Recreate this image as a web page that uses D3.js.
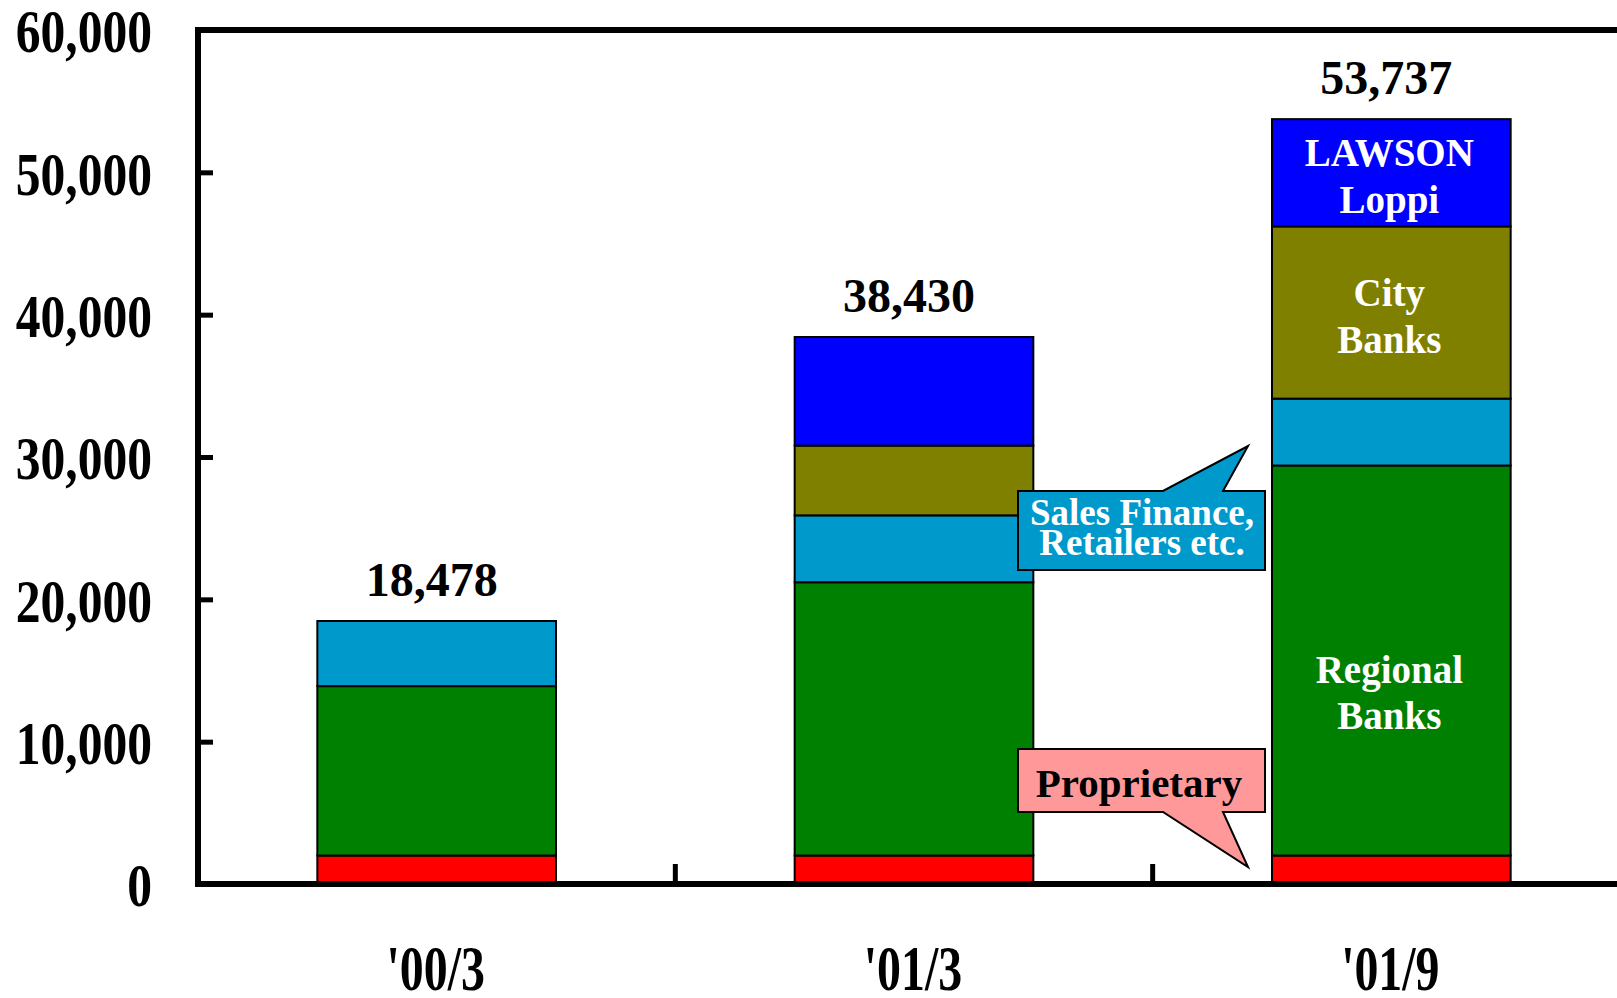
<!DOCTYPE html>
<html><head><meta charset="utf-8">
<script src="https://cdn.jsdelivr.net/npm/d3@7"></script>
<style>
body{margin:0;background:#fff}
svg{display:block}
text{font-family:"Liberation Serif","Times New Roman",serif;font-weight:bold}
</style>
</head><body><svg id="c" width="1617" height="998"></svg>
<script>
// ---- data ----
const categories = ["'00/3", "'01/3", "'01/9"];
const seriesKeys = ["Proprietary", "Regional Banks", "Sales Finance, Retailers etc.", "City Banks", "LAWSON Loppi"];
const proprietary   = [2000, 2000, 2000];
const regionalBanks = [11900, 19200, 27400];
const salesFinance  = [4578, 4700, 4700];
const cityBanks     = [0, 4900, 12100];
const lawsonLoppi   = [0, 7630, 7537];
const totals        = [18478, 38430, 53737];
const yTicks        = [0, 10000, 20000, 30000, 40000, 50000, 60000];
const seriesColors  = ["#FF0000", "#008000", "#0099CC", "#808000", "#0000FF"];

// in-bar labels: [series index, category index, lines]
const inBarLabels = [
  {s: 4, c: 2, lines: ["LAWSON", "Loppi"], dy: [-7, 40]},
  {s: 3, c: 2, lines: ["City", "Banks"], dy: [-7, 40]},
  {s: 1, c: 2, lines: ["Regional", "Banks"], dy: [22, 68]}
];

// ---- build ----
const table = categories.map((c, i) => ({
  cat: c,
  [seriesKeys[0]]: proprietary[i],
  [seriesKeys[1]]: regionalBanks[i],
  [seriesKeys[2]]: salesFinance[i],
  [seriesKeys[3]]: cityBanks[i],
  [seriesKeys[4]]: lawsonLoppi[i]
}));
const stacked = d3.stack().keys(seriesKeys)(table);

const svg = d3.select("#c");
const y = d3.scaleLinear().domain([0, 60000]).range([884, 30]);
const x = d3.scaleBand().domain(categories).range([198, 1630]).paddingInner(0.5).paddingOuter(0.25);

// bars
stacked.forEach((layer, si) => {
  svg.append("g").selectAll("rect")
    .data(layer.filter(d => d[1] - d[0] > 0))
    .join("rect")
    .attr("x", d => x(d.data.cat))
    .attr("width", x.bandwidth())
    .attr("y", d => y(d[1]))
    .attr("height", d => y(d[0]) - y(d[1]))
    .attr("fill", seriesColors[si])
    .attr("stroke", "#000")
    .attr("stroke-width", 2);
});

// in-bar labels
inBarLabels.forEach(l => {
  const seg = stacked[l.s][l.c];
  const mid = (y(seg[0]) + y(seg[1])) / 2;
  const cx = x(categories[l.c]) + x.bandwidth() / 2 - 2;
  l.lines.forEach((t, k) => {
    svg.append("text").attr("x", cx).attr("y", mid + l.dy[k])
      .attr("text-anchor", "middle").attr("fill", "#fff")
      .attr("font-size", 39).text(t);
  });
});

// totals
svg.append("g").selectAll("text").data(totals).join("text")
  .attr("x", (d, i) => x(categories[i]) + x.bandwidth() / 2 - 5)
  .attr("y", d => y(d) - 25)
  .attr("text-anchor", "middle")
  .attr("font-size", 48)
  .text(d => d3.format(",")(d));

// y axis
const sx = 0.8;
const yAxis = svg.append("g").attr("transform", "translate(198,0)")
  .call(d3.axisLeft(y).tickValues(yTicks).tickSizeInner(-15).tickSizeOuter(0)
        .tickPadding(46).tickFormat(d3.format(",")));
yAxis.select(".domain").remove();
yAxis.attr("font-family", null).attr("font-size", null);
yAxis.selectAll(".tick line").attr("stroke", "#000").attr("stroke-width", 5);
yAxis.selectAll(".tick text")
  .attr("fill", "#000")
  .attr("font-size", 62)
  .attr("x", -46 / sx)
  .attr("dy", "0.35em")
  .attr("transform", `scale(${sx},1)`);

// x labels
const sxl = 0.76;
svg.append("g").selectAll("text").data(categories).join("text")
  .attr("transform", d => `translate(${x(d) + x.bandwidth() / 2 - 1},990) scale(${sxl},1)`)
  .attr("text-anchor", "middle")
  .attr("font-size", 63)
  .text(d => d);

// x boundary ticks
const gap = (x.step() - x.bandwidth()) / 2;
svg.append("g").selectAll("line").data(categories.slice(1)).join("line")
  .attr("x1", d => x(d) - gap).attr("x2", d => x(d) - gap)
  .attr("y1", y(0)).attr("y2", y(0) - 20)
  .attr("stroke", "#000").attr("stroke-width", 5);

// frame
svg.append("path")
  .attr("d", `M1625,${y(60000)} H198 V${y(0)} H1625`)
  .attr("fill", "none").attr("stroke", "#000").attr("stroke-width", 6)
  .attr("stroke-linejoin", "miter");

// callouts
svg.append("path")
  .attr("d", "M1018,491 H1163 L1248,446 L1223,491 H1265 V570 H1018 Z")
  .attr("fill", "#0099CC").attr("stroke", "#000").attr("stroke-width", 2);
svg.append("text").attr("x", 1142).attr("y", 525).attr("text-anchor", "middle")
  .attr("fill", "#fff").attr("font-size", 37).text("Sales Finance,");
svg.append("text").attr("x", 1142).attr("y", 555).attr("text-anchor", "middle")
  .attr("fill", "#fff").attr("font-size", 37).text("Retailers etc.");

svg.append("path")
  .attr("d", "M1018,749 H1265 V812 H1223 L1248,867 L1163,812 H1018 Z")
  .attr("fill", "#FF9999").attr("stroke", "#000").attr("stroke-width", 2);
svg.append("text").attr("x", 1139).attr("y", 797).attr("text-anchor", "middle")
  .attr("fill", "#000").attr("font-size", 41).text("Proprietary");
</script>
</body></html>
